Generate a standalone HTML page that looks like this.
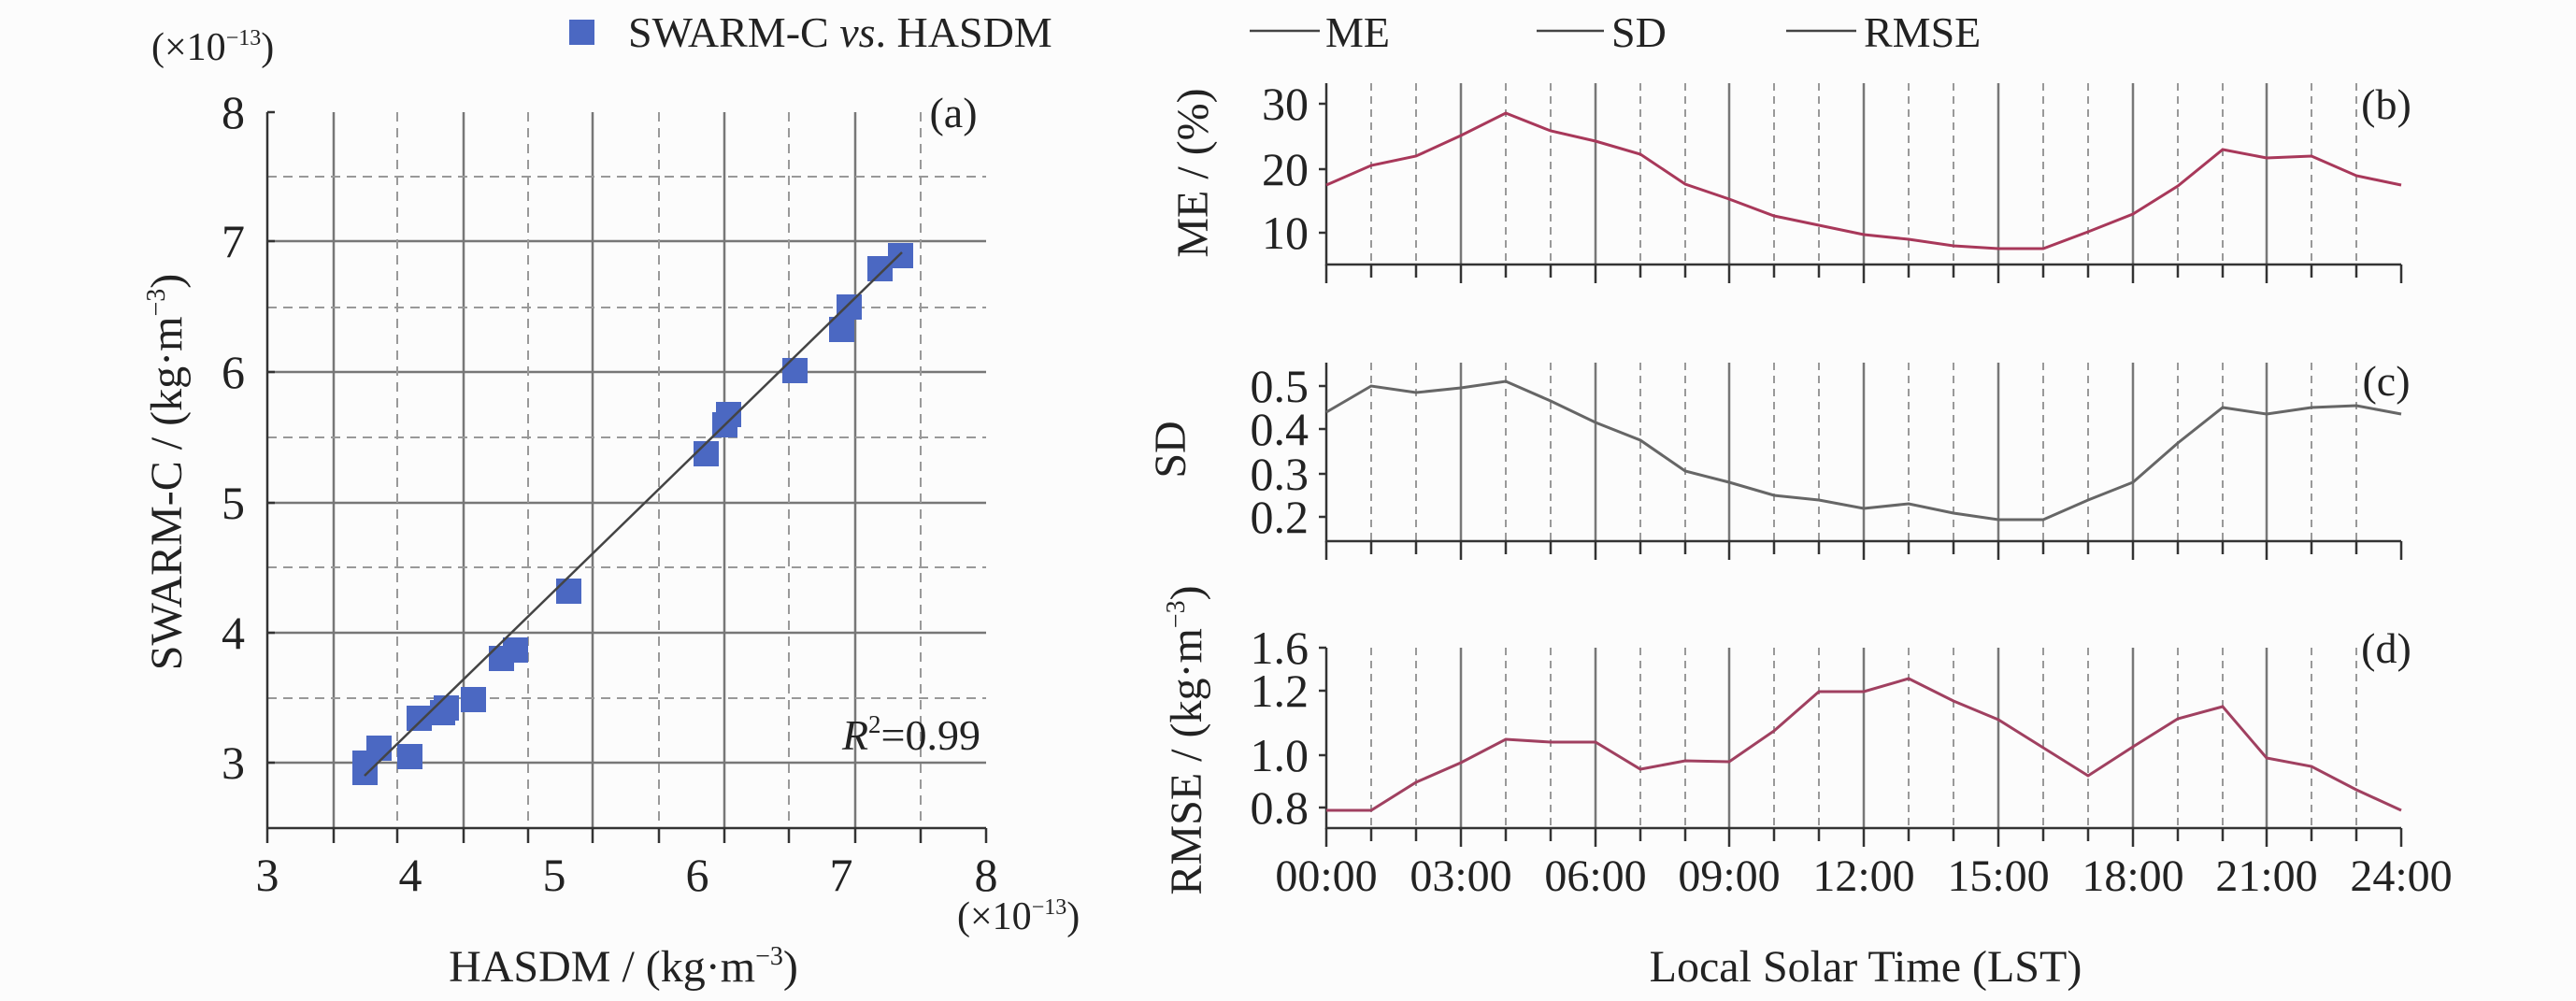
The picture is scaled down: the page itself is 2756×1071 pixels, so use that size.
<!DOCTYPE html>
<html><head><meta charset="utf-8"><style>
html,body{margin:0;padding:0;background:#fcfcfc;}
svg{display:block;}
text{font-family:"Liberation Serif",serif;fill:#222;}
</style></head><body>
<svg width="2756" height="1071" viewBox="0 0 2756 1071" xmlns="http://www.w3.org/2000/svg">
<rect width="2756" height="1071" fill="#fcfcfc"/>
<g stroke="#777" stroke-width="2.5">
<line x1="357" y1="120" x2="357" y2="886"/><line x1="496" y1="120" x2="496" y2="886"/><line x1="634" y1="120" x2="634" y2="886"/><line x1="775" y1="120" x2="775" y2="886"/><line x1="915" y1="120" x2="915" y2="886"/>
<line x1="286" y1="258" x2="1055" y2="258"/><line x1="286" y1="398" x2="1055" y2="398"/><line x1="286" y1="538" x2="1055" y2="538"/><line x1="286" y1="677" x2="1055" y2="677"/><line x1="286" y1="816" x2="1055" y2="816"/>
</g>
<g stroke="#999" stroke-width="2" stroke-dasharray="10,7">
<line x1="425" y1="120" x2="425" y2="886"/><line x1="565" y1="120" x2="565" y2="886"/><line x1="705" y1="120" x2="705" y2="886"/><line x1="844" y1="120" x2="844" y2="886"/><line x1="985" y1="120" x2="985" y2="886"/>
<line x1="286" y1="189" x2="1055" y2="189"/><line x1="286" y1="329" x2="1055" y2="329"/><line x1="286" y1="468" x2="1055" y2="468"/><line x1="286" y1="607" x2="1055" y2="607"/><line x1="286" y1="747" x2="1055" y2="747"/>
</g>
<g stroke="#333" stroke-width="2.5">
<line x1="286" y1="120" x2="286" y2="886"/><line x1="286" y1="886" x2="1055" y2="886"/>
<line x1="286" y1="120" x2="294" y2="120"/><line x1="286" y1="258" x2="294" y2="258"/><line x1="286" y1="398" x2="294" y2="398"/><line x1="286" y1="538" x2="294" y2="538"/><line x1="286" y1="677" x2="294" y2="677"/><line x1="286" y1="816" x2="294" y2="816"/>
<line x1="286" y1="886" x2="286" y2="902"/><line x1="357" y1="886" x2="357" y2="902"/><line x1="425" y1="886" x2="425" y2="902"/><line x1="496" y1="886" x2="496" y2="902"/><line x1="565" y1="886" x2="565" y2="902"/><line x1="634" y1="886" x2="634" y2="902"/><line x1="705" y1="886" x2="705" y2="902"/><line x1="775" y1="886" x2="775" y2="902"/><line x1="844" y1="886" x2="844" y2="902"/><line x1="915" y1="886" x2="915" y2="902"/><line x1="985" y1="886" x2="985" y2="902"/><line x1="1055" y1="886" x2="1055" y2="902"/>
</g>
<g fill="#4b68c2">
<rect x="377" y="813" width="27" height="27"/><rect x="377" y="803" width="27" height="27"/><rect x="392" y="787" width="27" height="27"/><rect x="425" y="796" width="27" height="27"/><rect x="435" y="755" width="27" height="27"/><rect x="460" y="749" width="27" height="27"/><rect x="464" y="744" width="27" height="27"/><rect x="493" y="735" width="27" height="27"/><rect x="523" y="691" width="27" height="27"/><rect x="538" y="682" width="27" height="27"/><rect x="595" y="619" width="27" height="27"/><rect x="742" y="472" width="27" height="27"/><rect x="762" y="441" width="27" height="27"/><rect x="766" y="430" width="27" height="27"/><rect x="837" y="383" width="27" height="27"/><rect x="887" y="339" width="27" height="27"/><rect x="895" y="315" width="27" height="27"/><rect x="928" y="274" width="27" height="27"/><rect x="950" y="260" width="27" height="27"/>
</g>
<line x1="390" y1="830" x2="965" y2="270" stroke="#444" stroke-width="2.5"/>
<g font-size="50" text-anchor="middle">
<text x="286" y="953">3</text><text x="439" y="953">4</text><text x="593" y="953">5</text><text x="746" y="953">6</text><text x="900" y="953">7</text><text x="1055" y="953">8</text>
</g>
<g font-size="50" text-anchor="end">
<text x="262" y="137">8</text><text x="262" y="275">7</text><text x="262" y="415">6</text><text x="262" y="555">5</text><text x="262" y="694">4</text><text x="262" y="833">3</text>
</g>
<text x="162" y="64" font-size="42">(×10<tspan font-size="24" dy="-16">−13</tspan><tspan dy="16">)</tspan></text>
<text x="1024" y="994" font-size="42">(×10<tspan font-size="24" dy="-16">−13</tspan><tspan dy="16">)</tspan></text>
<text x="1020" y="136" font-size="46" text-anchor="middle">(a)</text>
<text x="1049" y="802" font-size="46" text-anchor="end"><tspan font-style="italic">R</tspan><tspan font-size="27" dy="-18">2</tspan><tspan dy="18">=0.99</tspan></text>
<text x="667" y="1050" font-size="48" text-anchor="middle">HASDM / (kg·m<tspan font-size="28" dy="-18">−3</tspan><tspan dy="18">)</tspan></text>
<text transform="translate(194,505) rotate(-90)" font-size="48" text-anchor="middle">SWARM-C / (kg·m<tspan font-size="28" dy="-18">−3</tspan><tspan dy="18">)</tspan></text>
<rect x="609" y="21" width="27" height="27" fill="#4b68c2"/>
<text x="672" y="50" font-size="46">SWARM-C <tspan font-style="italic">vs</tspan>. HASDM</text>
<g stroke="#444" stroke-width="2.5"><line x1="1337" y1="33" x2="1412" y2="33"/><line x1="1644" y1="33" x2="1716" y2="33"/><line x1="1911" y1="33" x2="1986" y2="33"/></g>
<g font-size="46"><text x="1418" y="50">ME</text><text x="1724" y="50">SD</text><text x="1994" y="50">RMSE</text></g>
<g stroke="#777" stroke-width="2.5">
<path d="M1563 89V283M1707 89V283M1850 89V283M1994 89V283M2138 89V283M2282 89V283M2425 89V283"/>
<path d="M1563 388V579M1707 388V579M1850 388V579M1994 388V579M2138 388V579M2282 388V579M2425 388V579"/>
<path d="M1563 693V886M1707 693V886M1850 693V886M1994 693V886M2138 693V886M2282 693V886M2425 693V886"/>
</g>
<g stroke="#999" stroke-width="2" stroke-dasharray="8,6">
<path d="M1467 89V283M1515 89V283M1611 89V283M1659 89V283M1755 89V283M1803 89V283M1898 89V283M1946 89V283M2042 89V283M2090 89V283M2186 89V283M2234 89V283M2330 89V283M2378 89V283M2473 89V283M2521 89V283"/>
<path d="M1467 388V579M1515 388V579M1611 388V579M1659 388V579M1755 388V579M1803 388V579M1898 388V579M1946 388V579M2042 388V579M2090 388V579M2186 388V579M2234 388V579M2330 388V579M2378 388V579M2473 388V579M2521 388V579"/>
<path d="M1467 693V886M1515 693V886M1611 693V886M1659 693V886M1755 693V886M1803 693V886M1898 693V886M1946 693V886M2042 693V886M2090 693V886M2186 693V886M2234 693V886M2330 693V886M2378 693V886M2473 693V886M2521 693V886"/>
</g>
<g stroke="#333" stroke-width="2.5" fill="none">
<path d="M1419 89V283H2569M1419 388V579H2569M1419 693V886H2569"/>
<path d="M1419 283v20M1467 283v14M1515 283v14M1563 283v20M1611 283v14M1659 283v14M1707 283v20M1755 283v14M1803 283v14M1850 283v20M1898 283v14M1946 283v14M1994 283v20M2042 283v14M2090 283v14M2138 283v20M2186 283v14M2234 283v14M2282 283v20M2330 283v14M2378 283v14M2425 283v20M2473 283v14M2521 283v14M2569 283v20"/>
<path d="M1419 579v20M1467 579v14M1515 579v14M1563 579v20M1611 579v14M1659 579v14M1707 579v20M1755 579v14M1803 579v14M1850 579v20M1898 579v14M1946 579v14M1994 579v20M2042 579v14M2090 579v14M2138 579v20M2186 579v14M2234 579v14M2282 579v20M2330 579v14M2378 579v14M2425 579v20M2473 579v14M2521 579v14M2569 579v20"/>
<path d="M1419 886v20M1467 886v14M1515 886v14M1563 886v20M1611 886v14M1659 886v14M1707 886v20M1755 886v14M1803 886v14M1850 886v20M1898 886v14M1946 886v14M1994 886v20M2042 886v14M2090 886v14M2138 886v20M2186 886v14M2234 886v14M2282 886v20M2330 886v14M2378 886v14M2425 886v20M2473 886v14M2521 886v14M2569 886v20"/>
<path d="M1419 111h-8M1419 181h-8M1419 249h-8M1419 413h-8M1419 459h-8M1419 507h-8M1419 553h-8M1419 693h-8M1419 739h-8M1419 808h-8M1419 864h-8"/>
</g>
<polyline fill="none" stroke="#a8385a" stroke-width="3" points="1419,198 1467,177 1515,167 1563,145 1611,121 1659,140 1707,151 1755,165 1803,197 1850,213 1898,231 1946,241 1994,251 2042,256 2090,263 2138,266 2186,266 2234,248 2282,229 2330,199 2378,160 2425,169 2473,167 2521,188 2569,198"/>
<polyline fill="none" stroke="#666" stroke-width="3" points="1419,441 1467,413 1515,420 1563,415 1611,408 1659,429 1707,452 1755,471 1803,504 1850,516 1898,530 1946,535 1994,544 2042,539 2090,549 2138,556 2186,556 2234,535 2282,516 2330,474 2378,436 2425,443 2473,436 2521,434 2569,443"/>
<polyline fill="none" stroke="#a04060" stroke-width="3" points="1419,867 1467,867 1515,837 1563,816 1611,791 1659,794 1707,794 1755,823 1803,814 1850,815 1898,782 1946,740 1994,740 2042,726 2090,750 2138,770 2186,800 2234,830 2282,799 2330,769 2378,756 2425,811 2473,820 2521,845 2569,867"/>
<g font-size="50" text-anchor="end">
<text x="1400" y="128">30</text><text x="1400" y="198">20</text><text x="1400" y="266">10</text>
<text x="1400" y="430">0.5</text><text x="1400" y="476">0.4</text><text x="1400" y="524">0.3</text><text x="1400" y="570">0.2</text>
<text x="1400" y="710">1.6</text><text x="1400" y="756">1.2</text><text x="1400" y="825">1.0</text><text x="1400" y="881">0.8</text>
</g>
<g font-size="46" text-anchor="middle"><text x="2553" y="127">(b)</text><text x="2553" y="423">(c)</text><text x="2553" y="709">(d)</text></g>
<g font-size="48" text-anchor="middle">
<text x="1419" y="953">00:00</text><text x="1563" y="953">03:00</text><text x="1707" y="953">06:00</text><text x="1850" y="953">09:00</text><text x="1994" y="953">12:00</text><text x="2138" y="953">15:00</text><text x="2282" y="953">18:00</text><text x="2425" y="953">21:00</text><text x="2569" y="953">24:00</text>
</g>
<text x="1996" y="1050" font-size="48" text-anchor="middle">Local Solar Time (LST)</text>
<text transform="translate(1292,185) rotate(-90)" font-size="48" text-anchor="middle">ME / (%)</text>
<text transform="translate(1268,481) rotate(-90)" font-size="48" text-anchor="middle">SD</text>
<text transform="translate(1285,792) rotate(-90)" font-size="48" text-anchor="middle">RMSE / (kg·m<tspan font-size="28" dy="-18">−3</tspan><tspan dy="18">)</tspan></text>
</svg>
</body></html>
